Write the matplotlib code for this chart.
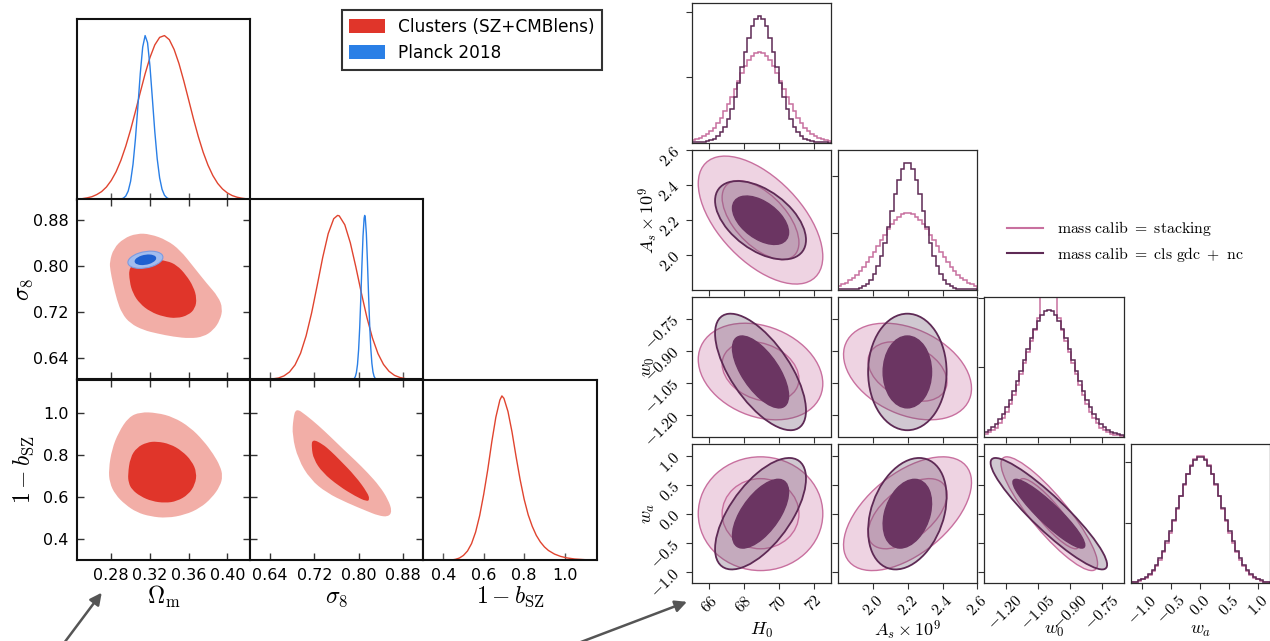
import numpy as np
import matplotlib
matplotlib.use("Agg")
import matplotlib.pyplot as plt
from matplotlib.patches import Ellipse, Patch, PathPatch
from matplotlib.path import Path
from matplotlib.lines import Line2D

plt.rcParams["font.family"] = ["DejaVu Sans"]
plt.rcParams["mathtext.fontset"] = "cm"

# ============ left triangle: clusters (SZ+CMBlens) vs Planck 2018 ============
L_LABELS = [r"$\Omega_{\rm m}$", r"$\sigma_8$", r"$1-b_{\rm SZ}$"]
L_RANGES = [(0.2446, 0.4234), (0.6035, 0.9165), (0.30, 1.16)]
L_TICKS = [[0.28, 0.32, 0.36, 0.40], [0.64, 0.72, 0.80, 0.88], [0.4, 0.6, 0.8, 1.0]]
L_TICKFMT = ["{:.2f}", "{:.2f}", "{:.1f}"]

# 1D marginals (peak-normalised)
CL_OM_X = [0.245, 0.250, 0.255, 0.260, 0.265, 0.270, 0.275, 0.280, 0.285, 0.290,
           0.295, 0.300, 0.305, 0.310, 0.315, 0.320, 0.325, 0.330, 0.335, 0.340,
           0.345, 0.350, 0.355, 0.360, 0.365, 0.370, 0.375, 0.380, 0.385, 0.390,
           0.395, 0.400, 0.405, 0.410, 0.415, 0.420, 0.425]
CL_OM_P = [0.003, 0.005, 0.010, 0.017, 0.030, 0.048, 0.076, 0.116, 0.169, 0.239,
           0.325, 0.425, 0.537, 0.653, 0.766, 0.865, 0.942, 0.988, 0.999, 0.974,
           0.914, 0.828, 0.722, 0.607, 0.491, 0.383, 0.288, 0.209, 0.146, 0.098,
           0.064, 0.040, 0.024, 0.014, 0.008, 0.004, 0.002]
PL_OM_X = [0.2900, 0.2925, 0.2950, 0.2975, 0.3000, 0.3025, 0.3050, 0.3075, 0.3100,
           0.3125, 0.3150, 0.3175, 0.3200, 0.3225, 0.3250, 0.3275, 0.3300, 0.3325,
           0.3350, 0.3375, 0.3400]
PL_OM_P = [0.003, 0.008, 0.021, 0.051, 0.111, 0.215, 0.370, 0.565, 0.768, 0.929,
           0.999, 0.956, 0.813, 0.615, 0.414, 0.248, 0.132, 0.062, 0.026, 0.010, 0.003]
CL_S8_X = [0.605, 0.615, 0.625, 0.635, 0.645, 0.655, 0.665, 0.675, 0.685, 0.695,
           0.705, 0.715, 0.725, 0.735, 0.745, 0.755, 0.762, 0.765, 0.775, 0.785,
           0.795, 0.805, 0.815, 0.825, 0.835, 0.845, 0.855, 0.865, 0.875, 0.885,
           0.895, 0.905, 0.915]
CL_S8_P = [0.000, 0.000, 0.001, 0.001, 0.004, 0.009, 0.022, 0.046, 0.089, 0.160,
           0.266, 0.406, 0.572, 0.743, 0.889, 0.980, 1.000, 0.997, 0.943, 0.833,
           0.686, 0.527, 0.378, 0.253, 0.158, 0.092, 0.050, 0.025, 0.012, 0.005,
           0.002, 0.001, 0.000]
PL_S8_X = [0.790, 0.792, 0.794, 0.796, 0.798, 0.800, 0.802, 0.804, 0.806, 0.808,
           0.810, 0.811, 0.812, 0.814, 0.816, 0.818, 0.820, 0.822, 0.824, 0.826,
           0.828, 0.830, 0.832]
PL_S8_P = [0.002, 0.006, 0.017, 0.042, 0.092, 0.181, 0.317, 0.497, 0.697, 0.875,
           0.983, 1.000, 0.989, 0.890, 0.716, 0.516, 0.333, 0.192, 0.099, 0.046,
           0.019, 0.007, 0.002]
CL_B_X = [0.40, 0.44, 0.46, 0.48, 0.50, 0.52, 0.54, 0.56, 0.58, 0.60, 0.62, 0.64,
          0.66, 0.68, 0.69, 0.70, 0.72, 0.74, 0.76, 0.78, 0.80, 0.82, 0.84, 0.86,
          0.88, 0.90, 0.92, 0.95, 0.98, 1.01, 1.05, 1.10, 1.15]
CL_B_P = [0.000, 0.000, 0.004, 0.012, 0.028, 0.055, 0.100, 0.170, 0.270, 0.400,
          0.550, 0.720, 0.870, 0.975, 1.000, 0.985, 0.905, 0.780, 0.630, 0.490,
          0.370, 0.275, 0.205, 0.150, 0.110, 0.080, 0.058, 0.036, 0.022, 0.013,
          0.006, 0.002, 0.000]

# 2D cluster contours (68% inner, 95% outer), outline vertices in parameter space
OM_S8_95 = [(0.2783, 0.8077), (0.2824, 0.8308), (0.2927, 0.8482), (0.3065, 0.8569),
            (0.3203, 0.8557), (0.3374, 0.8453), (0.3512, 0.8279), (0.3650, 0.7990),
            (0.3787, 0.7701), (0.3907, 0.7470), (0.3952, 0.7267), (0.3925, 0.7065),
            (0.3856, 0.6891), (0.3753, 0.6776), (0.3615, 0.6747), (0.3443, 0.6776),
            (0.3271, 0.6834), (0.3134, 0.6891), (0.2996, 0.7007), (0.2910, 0.7181),
            (0.2859, 0.7412), (0.2817, 0.7701), (0.2790, 0.7932)]
OM_S8_68 = [(0.2982, 0.7990), (0.3099, 0.8094), (0.3237, 0.8117), (0.3374, 0.8094),
            (0.3478, 0.8019), (0.3574, 0.7846), (0.3650, 0.7643), (0.3684, 0.7441),
            (0.3667, 0.7267), (0.3598, 0.7152), (0.3478, 0.7094), (0.3340, 0.7123),
            (0.3203, 0.7210), (0.3093, 0.7354), (0.3024, 0.7528), (0.2989, 0.7730)]
OM_B_95 = [(0.2773, 0.7322), (0.2807, 0.8284), (0.2876, 0.9086), (0.2979, 0.9808),
           (0.3099, 1.0048), (0.3271, 1.0016), (0.3443, 0.9808), (0.3615, 0.9326),
           (0.3753, 0.8685), (0.3856, 0.8043), (0.3925, 0.7482), (0.3952, 0.7001),
           (0.3925, 0.6520), (0.3839, 0.5958), (0.3718, 0.5477), (0.3564, 0.5156),
           (0.3374, 0.4996), (0.3203, 0.5076), (0.3065, 0.5269), (0.2945, 0.5637),
           (0.2841, 0.6119), (0.2783, 0.6680)]
OM_B_68 = [(0.2972, 0.7081), (0.2996, 0.7883), (0.3065, 0.8364), (0.3168, 0.8605),
           (0.3271, 0.8653), (0.3409, 0.8525), (0.3529, 0.8204), (0.3632, 0.7723),
           (0.3684, 0.7161), (0.3667, 0.6600), (0.3598, 0.6119), (0.3478, 0.5798),
           (0.3357, 0.5718), (0.3220, 0.5798), (0.3099, 0.6039), (0.3013, 0.6359),
           (0.2979, 0.6680)]
S8_B_95 = [(0.6866, 1.024), (0.7050, 0.9900), (0.7275, 0.9404), (0.7500, 0.8850),
           (0.7720, 0.8284), (0.7950, 0.7720), (0.8162, 0.7163), (0.8380, 0.6520),
           (0.8534, 0.5880), (0.8607, 0.5317), (0.8534, 0.5050), (0.8350, 0.5120),
           (0.8162, 0.5317), (0.7793, 0.5721), (0.7422, 0.6202), (0.7126, 0.6841),
           (0.6905, 0.7803), (0.6799, 0.8923), (0.6816, 0.9726)]
S8_B_68 = [(0.7162, 0.8764), (0.7348, 0.8524), (0.7500, 0.8180), (0.7645, 0.7803),
           (0.7941, 0.7000), (0.8162, 0.6202), (0.8200, 0.5880), (0.8148, 0.5784),
           (0.7941, 0.6038), (0.7645, 0.6519), (0.7347, 0.7163), (0.7186, 0.7803),
           (0.7148, 0.8365)]

# Planck 2018 Gaussian summary in (Omega_m, sigma_8)
PL_MEAN = [0.3153, 0.8111]
PL_SIGMA = [0.0074, 0.0061]
PL_RHO = 0.30

# ============ right triangle: mass-calibration comparison ============
R_LABELS = [r"$H_0$", r"$A_s\times10^9$", r"$w_0$", r"$w_a$"]
R_RANGES = [(65.0, 73.0), (1.8, 2.6), (-1.30, -0.65), (-1.2, 1.2)]
R_TICKS = [[66, 68, 70, 72], [2.0, 2.2, 2.4, 2.6], [-1.20, -1.05, -0.90, -0.75],
           [-1.0, -0.5, 0.0, 0.5, 1.0]]
R_TICKFMT = ["{:.0f}", "{:.1f}", "{:.2f}", "{:.1f}"]
HIST_YTICKS = [1000, 2000]

# sample counts per bin (40 bins across each axis range)
ST_H0 = [40, 52, 70, 96, 128, 174, 231, 300, 383, 479, 586, 703, 825, 947, 1065, 1172,
         1263, 1332, 1375, 1390, 1375, 1332, 1263, 1172, 1065, 947, 825, 703, 586, 479,
         383, 300, 230, 174, 128, 96, 70, 52, 40, 32]
GN_H0 = [4, 6, 9, 14, 22, 36, 60, 99, 157, 243, 359, 512, 698, 916, 1152, 1391, 1608,
         1785, 1899, 1940, 1899, 1785, 1608, 1391, 1152, 916, 698, 512, 359, 243, 157,
         99, 60, 36, 22, 14, 9, 6, 4, 2]
ST_AS = [69, 93, 123, 161, 207, 261, 325, 398, 480, 570, 667, 768, 870, 970, 1066, 1152,
         1227, 1286, 1327, 1347, 1347, 1327, 1286, 1227, 1152, 1066, 970, 870, 768, 667,
         570, 480, 398, 325, 261, 207, 161, 123, 93, 69]
GN_AS = [2, 3, 4, 6, 10, 17, 30, 56, 99, 166, 267, 408, 596, 829, 1101, 1394, 1685, 1941,
         2133, 2237, 2237, 2133, 1941, 1685, 1394, 1101, 829, 596, 408, 267, 166, 99, 56,
         30, 17, 10, 6, 4, 3, 2]
ST_W0 = [38, 58, 88, 130, 190, 265, 360, 470, 600, 750, 905, 1070, 1230, 1390, 1540,
         1720, 2100, 2350, 2500, 2350, 2100, 1720, 1540, 1390, 1230, 1070, 905, 750, 600,
         470, 360, 265, 190, 130, 88, 58, 38, 25, 16, 10]
GN_W0 = [67, 96, 135, 185, 248, 327, 422, 534, 661, 803, 955, 1113, 1271, 1422, 1559,
         1674, 1762, 1816, 1835, 1816, 1762, 1674, 1559, 1422, 1271, 1113, 955, 803, 661,
         534, 422, 327, 248, 185, 135, 96, 67, 46, 31, 20]
ST_WA = [16, 26, 42, 65, 97, 143, 204, 285, 388, 514, 664, 836, 1026, 1227, 1430, 1626,
         1801, 1945, 2047, 2100, 2100, 2047, 1945, 1801, 1626, 1430, 1227, 1026, 836, 664,
         514, 388, 285, 204, 143, 97, 65, 42, 26, 16]
GN_WA = [20, 31, 49, 74, 109, 158, 223, 307, 412, 540, 690, 861, 1048, 1244, 1442, 1630,
         1799, 1937, 2034, 2085, 2085, 2034, 1937, 1799, 1630, 1442, 1244, 1048, 861, 690,
         540, 412, 307, 223, 158, 109, 74, 49, 31, 20]

# Gaussian summaries of the 2D posteriors: means, widths, pairwise correlations
ST_MEAN = [68.95, 2.199, -0.997, 0.0]
ST_SIGMA = [1.46, 0.150, 0.092, 0.40]
ST_CORR = {(0, 1): -0.57, (0, 2): -0.25, (0, 3): 0.0, (1, 2): -0.35, (1, 3): 0.55,
           (2, 3): -0.88}
GN_MEAN = [68.95, 2.198, -0.999, 0.0]
GN_SIGMA = [1.066, 0.092, 0.111, 0.392]
GN_CORR = {(0, 1): -0.50, (0, 2): -0.66, (0, 3): 0.63, (1, 2): 0.0, (1, 3): 0.30,
           (2, 3): -0.915}
LEVELS = [0.68, 0.95]

# ---------------- styling ----------------
RED_LINE = "#E0442F"
RED_IN = "#E0352A"
RED_OUT = "#F2AEA7"
BLUE_LINE = "#2A7FE6"
BLUE_IN = "#1F5FD0"
BLUE_OUT = "#A3BCEE"
BLUE_EDGE = "#7C9BE2"
PINK = "#C8709F"
DARK = "#5E2A55"
DARK_RING = "#6E5670"
DARK_FILL = "#6B3562"

W, H = 1270, 641
fig = plt.figure(figsize=(W / 100, H / 100), dpi=100)
fig.patch.set_facecolor("white")


def axes_px(x0, y0, w, h):
    return fig.add_axes([x0 / W, 1 - (y0 + h) / H, w / W, h / H])


def k_of(level):
    return np.sqrt(-2.0 * np.log(1.0 - level))


def gauss_ellipse(mx, my, sx, sy, rho, level, **kw):
    cov = np.array([[sx * sx, rho * sx * sy], [rho * sx * sy, sy * sy]])
    vals, vecs = np.linalg.eigh(cov)
    k = k_of(level)
    angle = np.degrees(np.arctan2(vecs[1, 1], vecs[0, 1]))
    return Ellipse((mx, my), 2 * k * np.sqrt(vals[1]), 2 * k * np.sqrt(vals[0]),
                   angle=angle, **kw)


def smooth_outline(points, **kw):
    """Closed quadratic-Bezier outline using the vertices as control points."""
    p = np.asarray(points, dtype=float)
    mids = 0.5 * (p + np.roll(p, -1, axis=0))
    verts = [mids[-1]]
    codes = [Path.MOVETO]
    for i in range(len(p)):
        verts += [p[i], mids[i]]
        codes += [Path.CURVE3, Path.CURVE3]
    verts.append(mids[-1])
    codes.append(Path.CLOSEPOLY)
    return PathPatch(Path(verts, codes), **kw)


# ---------------- left triangle ----------------
L_X = [77, 250, 423]
L_W = [173, 173, 174]
L_Y = [19, 199, 379.5]
L_H = 180.5

curves_1d = {
    0: [(CL_OM_X, CL_OM_P, RED_LINE), (PL_OM_X, PL_OM_P, BLUE_LINE)],
    1: [(CL_S8_X, CL_S8_P, RED_LINE), (PL_S8_X, PL_S8_P, BLUE_LINE)],
    2: [(CL_B_X, CL_B_P, RED_LINE)],
}
contours_2d = {
    (1, 0): (OM_S8_95, OM_S8_68),
    (2, 0): (OM_B_95, OM_B_68),
    (2, 1): (S8_B_95, S8_B_68),
}

left_axes = {}
for row in range(3):
    for col in range(row + 1):
        ax = axes_px(L_X[col], L_Y[row], L_W[col], L_H)
        left_axes[(row, col)] = ax
        for s in ax.spines.values():
            s.set_linewidth(1.5)
            s.set_color("#111111")
        ax.set_xlim(*L_RANGES[col])
        xt = L_TICKS[col]
        ax.set_xticks(xt, [L_TICKFMT[col].format(v) for v in xt])
        if row == col:
            ax.set_ylim(0, 1.1)
            ax.set_yticks([])
            for xs, ps, c in curves_1d[col]:
                ax.plot(xs, ps, color=c, lw=1.0)
            ax.tick_params(axis="x", direction="in", length=5, width=1.0,
                           color="#555555", labelsize=11.5, pad=6,
                           labelbottom=(row == 2))
        else:
            ax.set_ylim(*L_RANGES[row])
            yt = L_TICKS[row]
            ax.set_yticks(yt, [L_TICKFMT[row].format(v) for v in yt])
            outer, inner = contours_2d[(row, col)]
            ax.add_patch(smooth_outline(outer, fc=RED_OUT, ec="none"))
            ax.add_patch(smooth_outline(inner, fc=RED_IN, ec="none"))
            if (row, col) == (1, 0):
                ax.add_patch(gauss_ellipse(PL_MEAN[0], PL_MEAN[1], PL_SIGMA[0],
                                           PL_SIGMA[1], PL_RHO, LEVELS[1],
                                           fc=BLUE_OUT, ec=BLUE_EDGE, lw=0.8))
                ax.add_patch(gauss_ellipse(PL_MEAN[0], PL_MEAN[1], PL_SIGMA[0],
                                           PL_SIGMA[1], PL_RHO, LEVELS[0],
                                           fc=BLUE_IN, ec="none"))
            ax.tick_params(direction="in", length=5, width=1.0, color="#333333",
                           top=True, right=True, labelsize=11.5, pad=6,
                           labelbottom=(row == 2), labelleft=(col == 0))
        if row == 2:
            ax.set_xlabel(L_LABELS[col], fontsize=17)
            ax.xaxis.set_label_coords(0.5, -0.205)
            ax.xaxis.label.set_va("center")
        if col == 0 and row > 0:
            ax.set_ylabel(L_LABELS[row], fontsize=17)
            ax.yaxis.set_label_coords(-0.31, 0.5)
            ax.yaxis.label.set_va("center")

leg = fig.legend(handles=[Patch(fc=RED_IN, ec="none"), Patch(fc=BLUE_LINE, ec="none")],
                 labels=["Clusters (SZ+CMBlens)", "Planck 2018"],
                 loc="upper left", bbox_to_anchor=(341.6 / W, 1 - 10 / H),
                 frameon=True, fancybox=False, edgecolor="black", fontsize=12.2,
                 handlelength=2.1, handleheight=0.85, handletextpad=0.8,
                 labelspacing=0.5, borderpad=0.45, borderaxespad=0)
leg.get_frame().set_linewidth(1.5)

# ---------------- right triangle ----------------
R_X0, R_Y0, R_SIZE, R_DX, R_DY = 691.7, 3.3, 139.4, 146.3, 146.9
ST_HISTS = [ST_H0, ST_AS, ST_W0, ST_WA]
GN_HISTS = [GN_H0, GN_AS, GN_W0, GN_WA]

right_axes = {}
for row in range(4):
    for col in range(row + 1):
        ax = axes_px(R_X0 + col * R_DX, R_Y0 + row * R_DY, R_SIZE, R_SIZE)
        right_axes[(row, col)] = ax
        for s in ax.spines.values():
            s.set_linewidth(0.9)
            s.set_color("#2a2a2a")
        ax.set_xlim(*R_RANGES[col])
        xt = R_TICKS[col]
        ax.set_xticks(xt, [("$" + R_TICKFMT[col].format(v) + "$") for v in xt],
                      rotation=45)
        if row == col:
            edges = np.linspace(R_RANGES[col][0], R_RANGES[col][1],
                                len(GN_HISTS[col]) + 1)
            ax.stairs(ST_HISTS[col], edges, color=PINK, lw=1.1)
            ax.stairs(GN_HISTS[col], edges, color=DARK, lw=1.1)
            ax.set_ylim(0, 1.1 * max(GN_HISTS[col]))
            ax.set_yticks(HIST_YTICKS)
            ax.tick_params(axis="y", labelleft=False)
        else:
            ax.set_ylim(*R_RANGES[row])
            yt = R_TICKS[row]
            ax.set_yticks(yt, [("$" + R_TICKFMT[row].format(v) + "$") for v in yt],
                          rotation=45)
            pair = (col, row)
            for mean, sig, corr, is_dark in ((ST_MEAN, ST_SIGMA, ST_CORR, False),
                                             (GN_MEAN, GN_SIGMA, GN_CORR, True)):
                args = (mean[col], mean[row], sig[col], sig[row], corr[pair])
                if is_dark:
                    ax.add_patch(gauss_ellipse(*args, LEVELS[1], fc=DARK_RING,
                                               alpha=0.32, ec="none"))
                    ax.add_patch(gauss_ellipse(*args, LEVELS[1], fc="none", ec=DARK,
                                               lw=1.3))
                    ax.add_patch(gauss_ellipse(*args, LEVELS[0], fc=DARK_FILL,
                                               ec=DARK_FILL, lw=1.0))
                else:
                    ax.add_patch(gauss_ellipse(*args, LEVELS[1], fc=PINK, alpha=0.3,
                                               ec="none"))
                    ax.add_patch(gauss_ellipse(*args, LEVELS[0], fc=PINK, alpha=0.15,
                                               ec="none"))
                    ax.add_patch(gauss_ellipse(*args, LEVELS[1], fc="none", ec=PINK,
                                               lw=1.0))
                    ax.add_patch(gauss_ellipse(*args, LEVELS[0], fc="none", ec=PINK,
                                               lw=1.0))
            ax.tick_params(axis="y", labelleft=(col == 0))
        ax.tick_params(direction="out", length=4.5, width=0.8, color="#333333",
                       labelsize=11.5, labelbottom=(row == 3), pad=2)
        if row == 3:
            ax.set_xlabel(R_LABELS[col], fontsize=13)
            ax.xaxis.set_label_coords(0.5, -0.335)
            ax.xaxis.label.set_va("center")
        if col == 0 and row > 0:
            ax.set_ylabel(R_LABELS[row], fontsize=13)
            ax.yaxis.set_label_coords(-0.31, 0.5)
            ax.yaxis.label.set_va("center")

fig.legend(handles=[Line2D([], [], color=PINK, lw=1.5), Line2D([], [], color=DARK, lw=1.5)],
           labels=[r"$\mathrm{mass\ calib}\ =\ \mathrm{stacking}$",
                   r"$\mathrm{mass\ calib}\ =\ \mathrm{cls\ gdc}\ +\ \mathrm{nc}$"],
           loc="upper left", bbox_to_anchor=(1006.5 / W, 1 - 219 / H),
           frameon=False, fontsize=11.3, handlelength=2.35, handletextpad=0.85,
           labelspacing=0.42, borderpad=0, borderaxespad=0)

# pointer arrows below the two triangles
arrow_kw = dict(arrowstyle="-|>,head_length=0.7,head_width=0.35", color="#555555",
                lw=1.8, shrinkA=0, shrinkB=0)
ax_a = left_axes[(2, 0)]
ax_a.annotate("", xy=(0.143, -0.181), xycoords="axes fraction",
              xytext=(-0.075, -0.46), textcoords="axes fraction",
              arrowprops=arrow_kw, annotation_clip=False)
ax_b = right_axes[(3, 0)]
ax_b.annotate("", xy=(-0.034, -0.132), xycoords="axes fraction",
              xytext=(-0.82, -0.43), textcoords="axes fraction",
              arrowprops=arrow_kw, annotation_clip=False)

fig.savefig("out.png", dpi=100)
